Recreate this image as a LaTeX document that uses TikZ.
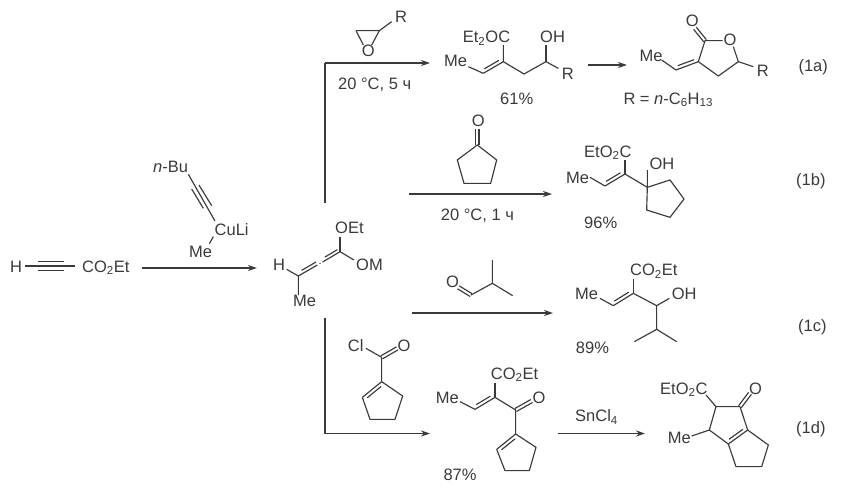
\documentclass[tikz,border=0pt]{standalone}
\usepackage{fontspec}
\setmainfont{Liberation Sans}
\usetikzlibrary{calc,arrows.meta}
\definecolor{ink}{HTML}{3A3A3A}
\tikzset{
  lbl/.style={anchor=base west,inner sep=0pt,text=ink,font=\fontsize{16.5}{18}\selectfont},
  bond/.style={draw=ink,line width=1.15pt},
  rxn/.style={draw=ink,line width=1.5pt,-{Stealth[length=9pt,width=6pt]}},
  feed/.style={draw=ink,line width=1.5pt},
  zoomed/.style={x=.33333pt,y=-.33333pt,shift={#1}}
}
% double bond: main line plus a shorter parallel on the given side (90 = left of travel)
\newcommand{\dbl}[3]{%
  \draw[bond] (#1)--(#2);
  \draw[bond] ($(#1)!.14!(#2)!3.4pt!#3:(#2)$) -- ($(#2)!.14!(#1)!3.4pt!-#3:(#1)$);}
% centred double bond
\newcommand{\cdbl}[2]{%
  \draw[bond] ($(#1)!1.7pt!90:(#2)$) -- ($(#2)!1.7pt!-90:(#1)$);
  \draw[bond] ($(#1)!1.7pt!-90:(#2)$) -- ($(#2)!1.7pt!90:(#1)$);}
\begin{document}
\begin{tikzpicture}[x=1pt,y=-1pt]
\useasboundingbox (0,0) rectangle (842,498);

% ---------- arrows and connectors
\coordinate (s0) at (142,268); \coordinate (e0) at (257,268);
\draw[rxn] (s0)--(e0);
\coordinate (upB) at (325,203); \coordinate (upC) at (325,63); \coordinate (upE) at (430,63);
\draw[feed] (upB)--(upC);
\draw[rxn] (upC)--(upE);
\coordinate (dnB) at (325,317.7); \coordinate (dnC) at (325,433.5); \coordinate (dnE) at (430,433.5);
\draw[feed] (dnB)--(dnC);
\draw[rxn,line width=1.1pt] (dnC)--(dnE);
\coordinate (sa) at (588,65); \coordinate (ea) at (627,65); \draw[rxn] (sa)--(ea);
\coordinate (sb) at (409,194); \coordinate (eb) at (552,194); \draw[rxn] (sb)--(eb);
\coordinate (sc) at (411.7,313); \coordinate (ec) at (553,313); \draw[rxn] (sc)--(ec);
\coordinate (sd) at (558.3,433.5); \coordinate (ed) at (645,433.5); \draw[rxn] (sd)--(ed);

% ---------- left: propiolate, cuprate, intermediate
\node[lbl] (h0) at (10,272) {H};
\node[lbl] (est0) at (82,272) {CO\textsubscript{2}Et};
\begin{scope}[zoomed={(0pt,-140pt)}]
\draw[bond] (75,378)--(225,378);
\draw[bond] (115,365)--(192,365);
\draw[bond] (115,392)--(192,392);
\draw[bond] (565,103)--(645,243);
\draw[bond] (575,147)--(610,205);
\draw[bond] (597,135)--(635,197);
\draw[bond] (640,290)--(628,311);
\draw[bond] (860,388)--(895,408)--(895,465);
\draw[bond] (895,408)--(952,375);
\draw[bond] (968,366)--(1020,335);
\draw[bond] (905,391)--(948,366);
\draw[bond] (975,351)--(1012,329);
\fill[ink] (960,370) circle (.7pt);
\draw[bond] (1020,335)--(1020,290);
\draw[bond] (1020,335)--(1062,360);
\end{scope}
\node[lbl] (nbu) at (153,172) {\textit{n}-Bu};
\node[lbl] (culi) at (214.5,235) {CuLi};
\node[lbl] (me0) at (189,257.5) {Me};
\node[lbl] (h1) at (273,270) {H};
\node[lbl] (me1) at (293,306) {Me};
\node[lbl] (oet) at (335,233) {OEt};
\node[lbl] (om) at (356,270.7) {OM};

% ---------- (1a)
\begin{scope}[zoomed={(320pt,0pt)}]
\draw[bond] (108,92)--(178,92)--(215,65);
\draw[bond] (108,92)--(130,135);
\draw[bond] (178,92)--(155,135);
\draw[bond] (445,200)--(490,220);
\dbl{490,220}{550,185}{90}
\draw[bond] (550,135)--(550,185)--(612,222)--(678,185)--(715,205);
\draw[bond] (678,185)--(678,135);
\cdbl{1155,122}{1125,85}
\draw[bond] (1208,122)--(1155,122)--(1135,185)--(1195,228)--(1255,185)--(1240,140);
\draw[bond] (1255,185)--(1300,200);
\draw[bond] (1025,180)--(1068,210);
\dbl{1068,210}{1135,185}{90}
\end{scope}
\node[lbl] (r1) at (395,22) {R};
\node[lbl] (o1) at (361.7,56.7) {O};
\node[lbl] (t1) at (338,89.3) {20 °C, 5 ч};
\node[lbl] (e1) at (462.7,42.7) {Et\textsubscript{2}OC};
\node[lbl] (oh1) at (540,42.7) {OH};
\node[lbl] (me2) at (444,66.7) {Me};
\node[lbl] (r2) at (561.7,79.3) {R};
\node[lbl] (y1) at (500,104) {61\%};
\node[lbl] (o2) at (685.7,26) {O};
\node[lbl] (o3) at (723.3,45.3) {O};
\node[lbl] (me3) at (639.3,61.7) {Me};
\node[lbl] (r3) at (756.7,76) {R};
\node[lbl] (rdef) at (623.3,104) {R = \textit{n}-C\textsubscript{6}H\textsubscript{13}};
\node[lbl] (la) at (798.3,71.7) {(1a)};

% ---------- (1b)
\begin{scope}[zoomed={(400pt,-100pt)}]
\cdbl{232,135}{232,88}
\draw[bond] (232,135)--(290,180)--(272,250)--(192,250)--(172,180)--cycle;
\draw[bond] (570,232)--(615,258);
\dbl{615,258}{675,222}{90}
\draw[bond] (675,222)--(675,180);
\draw[bond] (675,222)--(742,262)--(742,210);
\draw[bond] (742,262)--(810,240)--(852,297)--(810,352)--(740,330)--cycle;
\end{scope}
\node[lbl] (o4) at (471.7,126) {O};
\node[lbl] (t2) at (440.7,220) {20 °C, 1 ч};
\node[lbl] (e2) at (584,157.3) {EtO\textsubscript{2}C};
\node[lbl] (oh2) at (649.3,169.3) {OH};
\node[lbl] (me4) at (566,183.3) {Me};
\node[lbl] (y2) at (584,228.3) {96\%};
\node[lbl] (lb) at (796,185) {(1b)};

% ---------- (1c)
\begin{scope}[zoomed={(400pt,-240pt)}]
\cdbl{175,142}{213,165}
\draw[bond] (213,165)--(277,130)--(277,60);
\draw[bond] (277,130)--(338,167);
\draw[bond] (600,175)--(640,197);
\dbl{640,197}{700,160}{90}
\draw[bond] (700,160)--(700,118);
\draw[bond] (700,160)--(770,197)--(808,175);
\draw[bond] (770,197)--(770,268)--(703,305);
\draw[bond] (770,268)--(830,305);
\end{scope}
\node[lbl] (o5) at (446,287.7) {O};
\node[lbl] (e3) at (630,275.7) {CO\textsubscript{2}Et};
\node[lbl] (me5) at (575,299.3) {Me};
\node[lbl] (oh3) at (671.7,299.3) {OH};
\node[lbl] (y3) at (575.7,353) {89\%};
\node[lbl] (lc) at (798,331.7) {(1c)};

% ---------- (1d)
\begin{scope}[zoomed={(320pt,-320pt)}]
\draw[bond] (138,85)--(185,112)--(185,185);
\cdbl{185,112}{232,85}
\draw[bond] (185,185)--(248,228)--(225,298)--(150,298)--(127,232);
\dbl{127,232}{185,185}{-90}
\draw[bond] (420,245)--(465,268);
\dbl{465,268}{525,232}{90}
\draw[bond] (525,232)--(525,188);
\draw[bond] (525,232)--(587,270)--(587,342);
\cdbl{587,270}{635,243}
\draw[bond] (587,342)--(648,382)--(628,452)--(555,452)--(530,388);
\dbl{530,388}{587,342}{-90}
\end{scope}
\begin{scope}[zoomed={(560pt,-350pt)}]
\draw[bond] (438,135)--(468,170)--(540,170);
\cdbl{540,170}{570,130}
\draw[bond] (540,170)--(563,240);
\dbl{505,282}{563,240}{90}
\draw[bond] (505,282)--(448,240)--(468,170);
\draw[bond] (448,240)--(395,258);
\draw[bond] (563,240)--(625,285)--(605,350)--(528,350)--(505,282);
\end{scope}
\node[lbl] (cl) at (347.7,351.7) {Cl};
\node[lbl] (o6) at (397.3,351.7) {O};
\node[lbl] (e4) at (490.7,379.3) {CO\textsubscript{2}Et};
\node[lbl] (me6) at (435.7,403.3) {Me};
\node[lbl] (o7) at (532.3,403.3) {O};
\node[lbl] (y4) at (443.3,480) {87\%};
\node[lbl] (sn) at (575,421.7) {SnCl\textsubscript{4}};
\node[lbl] (e5) at (660,394) {EtO\textsubscript{2}C};
\node[lbl] (o8) at (749,394) {O};
\node[lbl] (me7) at (667.7,443.3) {Me};
\node[lbl] (ld) at (796,433.3) {(1d)};
\end{tikzpicture}
\end{document}
